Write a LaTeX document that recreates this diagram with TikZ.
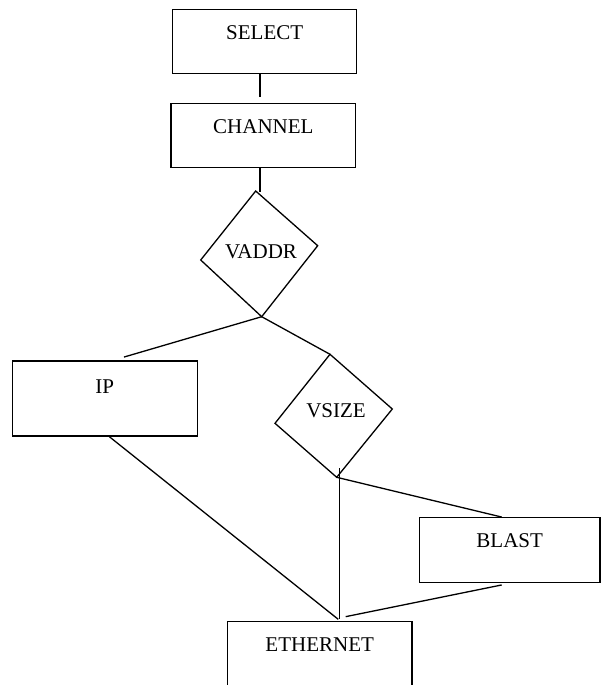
\documentclass[tikz,border=0pt]{standalone}
\usepackage{fontspec}
\setmainfont{Liberation Serif}
\usetikzlibrary{calc}
\begin{document}
\begin{tikzpicture}[x=1pt,y=-1pt,line width=1.3pt,
  lbl/.style={font=\fontsize{21}{25}\selectfont},
  box/.style={lbl,draw,rectangle,inner sep=0pt,text height=14pt},
  tag/.style={lbl,inner sep=0pt,text height=14pt,text depth=0pt},
  link/.style={draw}]
\useasboundingbox (0,0) rectangle (601,685);
\clip (0,0) rectangle (601,685);

% rectangular steps, label set near the top edge
\node[box,minimum width=184pt,minimum height=64pt,text depth=18pt] (select) at (264.7,41.3) {SELECT};
\node[box,minimum width=184.7pt,minimum height=64.4pt,text depth=18pt] (channel) at (263.4,135.5) {CHANNEL};
\node[box,minimum width=185pt,minimum height=75pt,text depth=24.4pt] (ip) at (104.8,398.5) {IP};
\node[box,minimum width=180.7pt,minimum height=65pt,text depth=19pt] (blast) at (509.7,550.2) {BLAST};
\node[box,minimum width=184.7pt,minimum height=64pt,text depth=18pt] (eth) at (319.7,653.7) {ETHERNET};

% decision VADDR
\coordinate (vt) at (255.7,191);
\coordinate (vr) at (317.7,245.7);
\coordinate (vb) at (261.7,316.7);
\coordinate (vl) at (200.7,260);
\draw (vt) -- (vr) -- (vb) -- (vl) -- cycle;
\node[tag] (vaddr) at (261,251.7) {VADDR};

% decision VSIZE
\coordinate (st) at (330,354.3);
\coordinate (sr) at (392.3,409);
\coordinate (sb) at (336.7,477.3);
\coordinate (sl) at (275,423.3);
\draw (st) -- (sr) -- (sb) -- (sl) -- cycle;
\node[tag] (vsize) at (336,410) {VSIZE};

% connectors
\path[link] ($(select.south)+(-4.7,0)$) -- ($(channel.north)+(-3.4,-6)$);
\path[link] ($(channel.south)+(-3.4,0)$) -- ($(vt)+(4.3,0.7)$);
\path[link] (vb) -- ($(ip.north)+(19.2,-3.3)$);
\path[link] (vb) -- (st);
\path[link] ($(ip.south)+(4.5,0)$) -- ($(eth.north)+(18.6,-1.7)$);
\path[link] ($(sb)+(2.5,-9.3)$) -- ($(eth.north)+(19.5,-1.7)$);
\path[link] (sb) -- ($(blast.north)+(-8,0)$);
\path[link] ($(blast.south)+(-8,1.6)$) -- ($(eth.north)+(26,-4.4)$);
\end{tikzpicture}
\end{document}
